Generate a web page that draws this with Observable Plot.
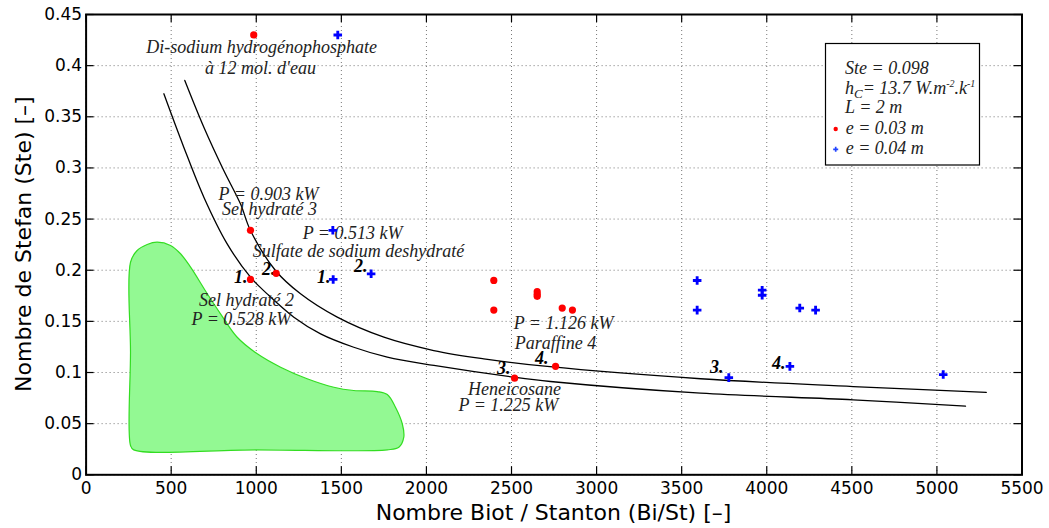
<!DOCTYPE html>
<html>
<head>
<meta charset="utf-8">
<script src="https://cdn.jsdelivr.net/npm/d3@7"></script>
<script src="https://cdn.jsdelivr.net/npm/@observablehq/plot@0.6"></script>
<style>
  html, body { margin: 0; padding: 0; background: #fff; }
  #chart { width: 1049px; height: 528px; }
</style>
</head>
<body>
<div id="chart"></div>
<script>
// ---- Data ----
const xTicks = [0, 500, 1000, 1500, 2000, 2500, 3000, 3500, 4000, 4500, 5000, 5500];
const yTicks = [0, 0.05, 0.1, 0.15, 0.2, 0.25, 0.3, 0.35, 0.4, 0.45];

// e = 0.03 m (red dots)
const redX = [985, 966, 966, 1117, 2396, 2396, 2651, 2651, 2651, 2798, 2858, 2759, 2518];
const redY = [0.430, 0.239, 0.191, 0.197, 0.190, 0.161, 0.1790, 0.1765, 0.1745, 0.163, 0.161, 0.106, 0.0945];

// e = 0.04 m (blue plus)
const blueX = [1479, 1450, 1452, 1675, 3591, 3591, 3973, 3973, 4194, 4287, 3777, 4136, 5037];
const blueY = [0.430, 0.239, 0.191, 0.1965, 0.190, 0.161, 0.1805, 0.1755, 0.163, 0.161, 0.095, 0.106, 0.098];

// iso-power curves
const curveAX = [457, 574, 692, 829, 966, 1064, 1221, 1378, 1573, 1770, 2044, 2514, 2729, 3611, 4508, 5168];
const curveAY = [0.3725, 0.3203, 0.2714, 0.2258, 0.1932, 0.1769, 0.1541, 0.1378, 0.1247, 0.1150, 0.1069, 0.0954, 0.0912, 0.0798, 0.0733, 0.0671];
const curveBX = [580, 692, 809, 907, 966, 1113, 1260, 1476, 1750, 2043, 2337, 2710, 3611, 4508, 5290];
const curveBY = [0.3855, 0.3398, 0.2975, 0.2649, 0.2388, 0.1997, 0.1769, 0.1541, 0.1345, 0.1215, 0.1134, 0.1059, 0.0939, 0.0863, 0.0805];

// green zone outline
const greenX = [261, 300, 359, 418, 496, 555, 614, 712, 790, 888, 1006, 1143, 1299, 1456, 1573, 1711, 1770, 1818, 1858, 1867, 1838, 1770, 1000, 280, 261, 261];
const greenY = [0.2078, 0.2193, 0.2252, 0.2274, 0.2242, 0.2161, 0.2030, 0.1770, 0.1574, 0.1345, 0.1183, 0.1052, 0.0939, 0.0856, 0.0824, 0.0814, 0.0785, 0.0661, 0.0499, 0.0368, 0.0270, 0.0244, 0.0244, 0.0244, 0.0286, 0.12];

// annotations
const labelText = ["Di-sodium hydrogénophosphate", "à 12 mol. d'eau", "P = 0.903 kW", "Sel hydraté 3",
  "P = 0.513 kW", "Sulfate de sodium deshydraté", "Sel hydraté 2", "P = 0.528 kW",
  "P = 1.126 kW", "Paraffine 4", "Heneicosane", "P = 1.225 kW"];
const labelX = [1031, 1025, 1072, 1078, 1566, 1601, 943, 913, 2806, 2758, 2518, 2482];
const labelY = [0.4122, 0.3920, 0.2682, 0.2535, 0.2310, 0.2134, 0.1655, 0.1469, 0.1421, 0.1226, 0.0777, 0.0619];

const numText = ["1.", "2.", "1.", "2.", "3.", "4.", "3.", "4."];
const numX = [948, 1113, 1436, 1654, 2494, 2717, 3746, 4110];
const numY = [0.1875, 0.1953, 0.1875, 0.1983, 0.0981, 0.1088, 0.1000, 0.1039];

// ---- Layout ----
const W = 1049, H = 528;
const mL = 85.6, mR = 27.5, mT = 14, mB = 53.7;
const innerW = W - mL - mR, innerH = H - mT - mB;
const tickLen = 8;
const serif = "'Liberation Serif', 'Times New Roman', serif";

const chart = Plot.plot({
  width: W, height: H,
  marginLeft: mL, marginRight: mR, marginTop: mT, marginBottom: mB,
  style: {fontFamily: "'DejaVu Sans', sans-serif", fontSize: "17px", background: "#fff", color: "#000"},
  x: {domain: [0, 5500]},
  y: {domain: [0, 0.45]},
  marks: [
    Plot.gridX(xTicks, {stroke: "#777", strokeOpacity: 1, strokeDasharray: "1,3", strokeWidth: 1}),
    Plot.gridY(yTicks, {stroke: "#777", strokeOpacity: 1, strokeDasharray: "1,3", strokeWidth: 1}),
    Plot.line(greenX, {x: greenX, y: greenY, curve: "catmull-rom-closed", fill: "#93f993", stroke: "#33dd22", strokeWidth: 1.2}),
    Plot.line(curveAX, {x: curveAX, y: curveAY, curve: "catmull-rom", stroke: "#000", strokeWidth: 1.3}),
    Plot.line(curveBX, {x: curveBX, y: curveBY, curve: "catmull-rom", stroke: "#000", strokeWidth: 1.3}),
    Plot.text(labelText, {x: labelX, y: labelY, text: labelText, fontFamily: serif, fontStyle: "italic", fontSize: 18, textAnchor: "middle", lineAnchor: "bottom", fill: "#222"}),
    Plot.text(numText, {x: numX, y: numY, text: numText, fontFamily: serif, fontStyle: "italic", fontWeight: "bold", fontSize: 18, textAnchor: "end", lineAnchor: "bottom", fill: "#000"}),
    Plot.dot(redX, {x: redX, y: redY, r: 3.6, fill: "#ff0000", stroke: "none"}),
    Plot.dot(blueX, {x: blueX, y: blueY, r: 3.6, symbol: "cross", fill: "#0000ff", stroke: "none"}),
    // inward ticks on all sides
    Plot.tickX(xTicks, {x: d => d, insetTop: innerH - tickLen, stroke: "#000", strokeWidth: 1.2}),
    Plot.tickX(xTicks, {x: d => d, insetBottom: innerH - tickLen, stroke: "#000", strokeWidth: 1.2}),
    Plot.tickY(yTicks, {y: d => d, insetRight: innerW - tickLen, stroke: "#000", strokeWidth: 1.2}),
    Plot.tickY(yTicks, {y: d => d, insetLeft: innerW - tickLen, stroke: "#000", strokeWidth: 1.2}),
    Plot.axisX(xTicks, {tickSize: 0, tickPadding: 7, tickFormat: d => String(d), label: null, fontSize: 17}),
    Plot.axisY(yTicks, {tickSize: 0, tickPadding: 4, tickFormat: d => String(d), label: null, fontSize: 17}),
    Plot.frame({stroke: "#000", strokeWidth: 2})
  ]
});

document.getElementById("chart").appendChild(chart);

// ---- axis titles and legend box ----
const svg = d3.select(chart);
svg.append("text")
  .attr("x", mL + innerW / 2).attr("y", 520)
  .attr("text-anchor", "middle")
  .attr("font-family", "'DejaVu Sans', sans-serif").attr("font-size", 22)
  .attr("fill", "#000")
  .text("Nombre Biot / Stanton (Bi/St) [–]");
svg.append("text")
  .attr("transform", `translate(31,${mT + innerH / 2}) rotate(-90)`)
  .attr("text-anchor", "middle")
  .attr("font-family", "'DejaVu Sans', sans-serif").attr("font-size", 22)
  .attr("fill", "#000")
  .text("Nombre de Stefan (Ste) [–]");

const lg = svg.append("g").attr("font-family", serif).attr("font-style", "italic").attr("font-size", 18)
  .attr("fill", "#222").attr("text-anchor", "start");
lg.append("rect").attr("x", 825.5).attr("y", 43.5).attr("width", 154).attr("height", 121.5)
  .attr("fill", "#fff").attr("stroke", "#000").attr("stroke-width", 1.2);
lg.append("text").attr("x", 845).attr("y", 74).text("Ste = 0.098");
const hc = lg.append("text").attr("x", 845).attr("y", 93.5);
hc.append("tspan").text("h");
hc.append("tspan").attr("font-size", 13).attr("dy", 4).text("C");
hc.append("tspan").attr("dy", -4).text("= 13.7 W.m");
hc.append("tspan").attr("font-size", 10).attr("dy", -7).text("-2");
hc.append("tspan").attr("dy", 7).text(".k");
hc.append("tspan").attr("font-size", 10).attr("dy", -7).text("-1");
lg.append("text").attr("x", 845).attr("y", 113).text("L = 2 m");
lg.append("text").attr("x", 845.7).attr("y", 133.5).text("e = 0.03 m");
lg.append("text").attr("x", 845.7).attr("y", 154).text("e = 0.04 m");
lg.append("circle").attr("cx", 835.7).attr("cy", 129).attr("r", 2.2).attr("fill", "#ff0000");
lg.append("path").attr("d", d3.symbol(d3.symbolCross, 14)()).attr("transform", "translate(835.7,149.3)").attr("fill", "#2244ff");
</script>
</body>
</html>
